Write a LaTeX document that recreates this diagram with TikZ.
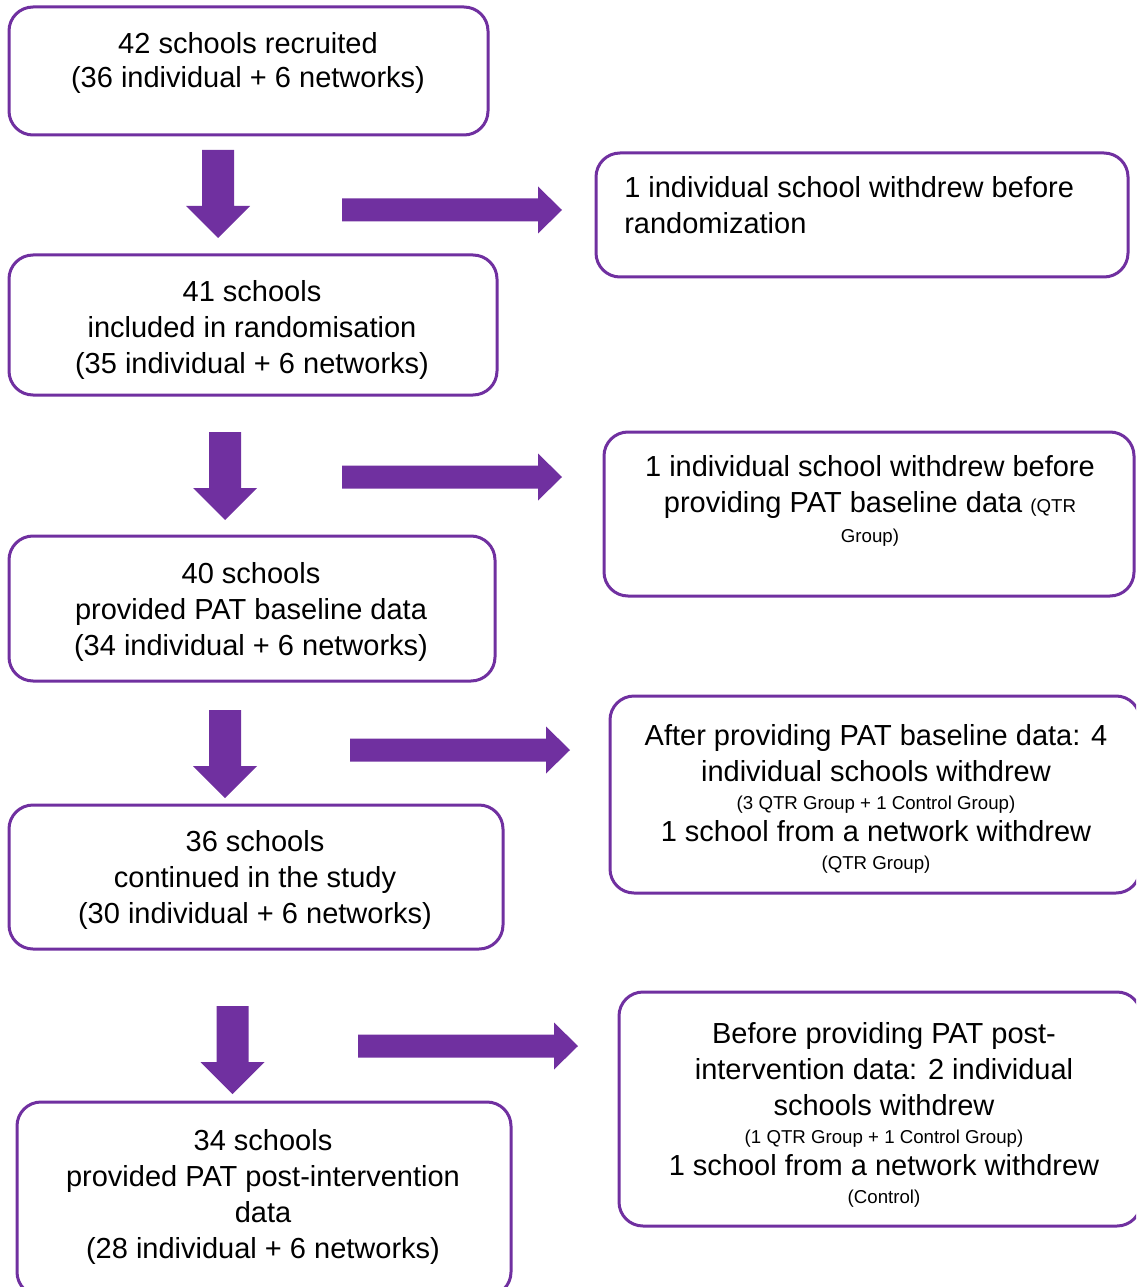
\documentclass[tikz,border=0pt]{standalone}
\usepackage{fontspec}
\setmainfont{Liberation Sans}
\definecolor{qpurple}{HTML}{7030A0}
\newcommand{\smalltxt}{\fontsize{14}{16}\selectfont}
\tikzset{
  box/.style={draw=qpurple, line width=2.25pt, rounded corners=18pt, inner sep=0pt},
  txt/.style={align=center, inner sep=0pt, font=\fontsize{21.75}{27}\selectfont},
  downarr/.pic={\fill[qpurple] (-16,0) -- (16,0) -- (16,56) -- (32,56) -- (0,88) -- (-32,56) -- (-16,56) -- cycle;},
  rightarr/.pic={\fill[qpurple] (0,-11.5) -- (196,-11.5) -- (196,-23.5) -- (220,0) -- (196,23.5) -- (196,11.5) -- (0,11.5) -- cycle;}
}
\begin{document}
\begin{tikzpicture}[x=0.75pt,y=-0.75pt]
\useasboundingbox (0,0) rectangle (1136,1287);
\clip (0,0) rectangle (1136,1287);

% left boxes
\node[box, minimum width=359.25pt, minimum height=96pt] (b1) at (248.5,71) {};
\node[box, minimum width=366pt, minimum height=105pt] (b2) at (253,325) {};
\node[box, minimum width=364.5pt, minimum height=108.75pt] (b3) at (252,608.5) {};
\node[box, minimum width=370.5pt, minimum height=108pt] (b4) at (256,877) {};
\node[box, minimum width=370.5pt, minimum height=145.5pt] (b5) at (264,1199) {};

% right boxes
\node[box, minimum width=399pt, minimum height=93pt] (r1) at (862,215) {};
\node[box, minimum width=397.5pt, minimum height=123pt] (r2) at (869,514) {};
\node[box, minimum width=397.5pt, minimum height=147.75pt] (r3) at (875,794.5) {};
\node[box, minimum width=391.5pt, minimum height=175.5pt] (r4) at (880,1109) {};

% texts
\node[txt, font=\fontsize{21.75}{25.5}\selectfont] (t1) at (248,63) {42 schools recruited\\(36 individual + 6 networks)};
\node[txt] (t2) at (252,330) {41 schools\\included in randomisation\\(35 individual + 6 networks)};
\node[txt] (t3) at (251,612) {40 schools\\provided PAT baseline data\\(34 individual + 6 networks)};
\node[txt] (t4) at (255,880) {36 schools\\continued in the study\\(30 individual + 6 networks)};
\node[txt] (t5) at (263,1197) {34 schools\\provided PAT post-intervention\\data\\(28 individual + 6 networks)};

\node[txt, align=left, anchor=west] (t6) at (624,205) {1 individual school withdrew before\\randomization};
\node[txt] (t7) at (870,501) {1 individual school withdrew before\\providing PAT baseline data {\smalltxt(QTR}\\[-4.5pt]{\smalltxt Group)}};
\node[txt] (t8) at (876,799) {After providing PAT baseline data: 4\\individual schools withdrew\\[-6.5pt]{\smalltxt (3 QTR Group + 1 Control Group)}\\[-2.5pt]1 school from a network withdrew\\[-6.5pt]{\smalltxt (QTR Group)}};
\node[txt] (t9) at (884,1115) {Before providing PAT post-\\intervention data: 2 individual\\schools withdrew\\[-6.5pt]{\smalltxt (1 QTR Group + 1 Control Group)}\\[-2.5pt]1 school from a network withdrew\\[-6.5pt]{\smalltxt (Control)}};

% block arrows
\pic at (218,150) {downarr};
\pic at (225,432) {downarr};
\pic at (225,710) {downarr};
\pic at (232.5,1006) {downarr};
\pic at (342,210) {rightarr};
\pic at (342,477) {rightarr};
\pic at (350,750) {rightarr};
\pic at (358,1046) {rightarr};
\end{tikzpicture}
\end{document}
